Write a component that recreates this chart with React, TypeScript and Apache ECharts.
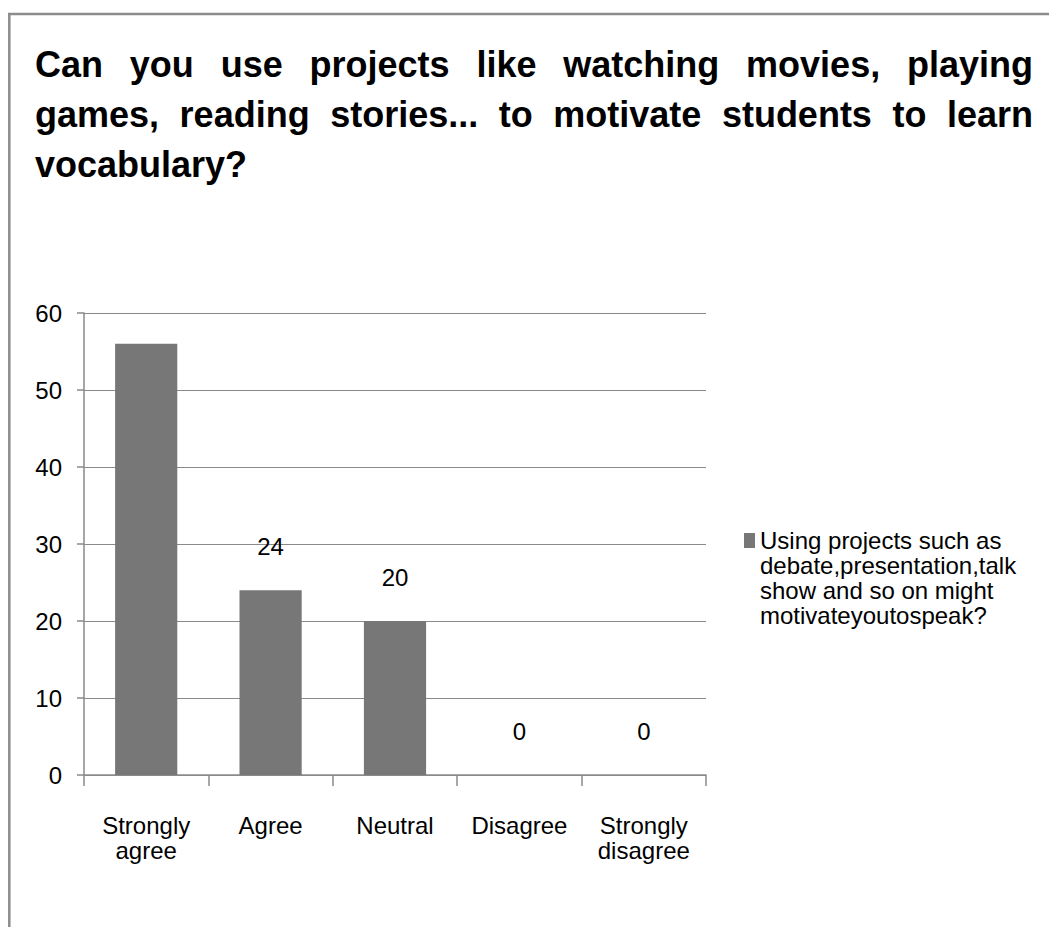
import React, { useEffect, useRef } from "react";
import * as echarts from "echarts";

const titleLines = [
  "Can you use projects like watching movies, playing",
  "games, reading stories... to motivate students to learn",
  "vocabulary?",
];
const categories = ["Strongly\nagree", "Agree", "Neutral", "Disagree", "Strongly\ndisagree"];
const values = [56, 24, 20, 0, 0];
const hiddenLabelCategories = ["Strongly\nagree"];
const legendLines = [
  "Using projects such as",
  "debate,presentation,talk",
  "show and so on might",
  "motivateyoutospeak?",
];
const seriesName = legendLines.join(" ");
const yTicks = { min: 0, max: 60, interval: 10 };

const FONT = '"Liberation Sans", Arial, Helvetica, sans-serif';

function measure(text: string, font: string): number {
  const c = document.createElement("canvas").getContext("2d");
  if (!c) return text.length * 18;
  c.font = font;
  return c.measureText(text).width;
}

function buildTitle(): any[] {
  const left = 35;
  const right = 1033;
  const size = 36;
  const font = `bold ${size}px ${FONT}`;
  const els: any[] = [];
  titleLines.forEach((line, li) => {
    const y = 64 + li * 50;
    const justify = li < titleLines.length - 1;
    const words = justify ? line.split(" ") : [line];
    const widths = words.map((w) => measure(w, font));
    const total = widths.reduce((a, b) => a + b, 0);
    const gap = words.length > 1 ? (right - left - total) / (words.length - 1) : 0;
    let x = left;
    words.forEach((w, i) => {
      els.push({
        type: "text",
        x,
        y,
        style: {
          text: w,
          fontSize: size,
          fontWeight: "bold",
          fontFamily: FONT,
          fill: "#000",
          verticalAlign: "middle",
          align: "left",
        },
      });
      x += widths[i] + gap;
    });
  });
  return els;
}

export default function App() {
  const ref = useRef<HTMLDivElement>(null);
  useEffect(() => {
    if (!ref.current) return;
    const chart = echarts.init(ref.current, null, { renderer: "svg" });
    const lineColor = "#8a8a8a";
    const fs = 24;
    chart.setOption({
      animation: false,
      backgroundColor: "#fff",
      textStyle: { fontFamily: FONT },
      graphic: [
        { type: "line", shape: { x1: 8, y1: 14, x2: 1049, y2: 14 }, style: { stroke: "#8c8c8c", lineWidth: 2.5 } },
        { type: "line", shape: { x1: 9.3, y1: 14, x2: 9.3, y2: 927 }, style: { stroke: "#8c8c8c", lineWidth: 2.5 } },
        ...buildTitle(),
      ],
      legend: {
        show: true,
        left: 739,
        top: 448,
        orient: "vertical",
        icon: "rect",
        itemWidth: 11,
        itemHeight: 15,
        formatter: () => "\n\n\n" + legendLines.join("\n"),
        textStyle: { fontSize: fs, lineHeight: 25, color: "#000", fontFamily: FONT },
        data: [seriesName],
      },
      grid: { left: 84, right: 343, top: 313, bottom: 152, containLabel: false },
      xAxis: {
        type: "category",
        data: categories,
        axisLine: { lineStyle: { color: lineColor, width: 1.5 } },
        axisTick: { show: true, length: 11, lineStyle: { color: lineColor, width: 1.5 } },
        axisLabel: { interval: 0, fontSize: fs, lineHeight: 25, color: "#000", margin: 38, fontFamily: FONT },
      },
      yAxis: {
        type: "value",
        min: yTicks.min,
        max: yTicks.max,
        interval: yTicks.interval,
        axisLine: { show: true, lineStyle: { color: lineColor, width: 1.5 } },
        axisTick: { show: true, length: 7, lineStyle: { color: lineColor, width: 1.5 } },
        splitLine: { show: true, lineStyle: { color: lineColor, width: 1.2 } },
        axisLabel: { fontSize: fs, color: "#000", margin: 22, fontFamily: FONT },
      },
      series: [
        {
          name: seriesName,
          type: "bar",
          barWidth: "50%",
          itemStyle: { color: "#777777" },
          label: { show: true, position: "top", distance: 32, fontSize: fs, color: "#000", fontFamily: FONT },
          data: values.map((v, i) =>
            hiddenLabelCategories.includes(categories[i]) ? { value: v, label: { show: false } } : v
          ),
        },
      ],
    });
    return () => chart.dispose();
  }, []);
  return (
    <div
      ref={ref}
      style={{ position: "fixed", left: 0, top: 0, width: 1049, height: 927, background: "#fff" }}
    />
  );
}
